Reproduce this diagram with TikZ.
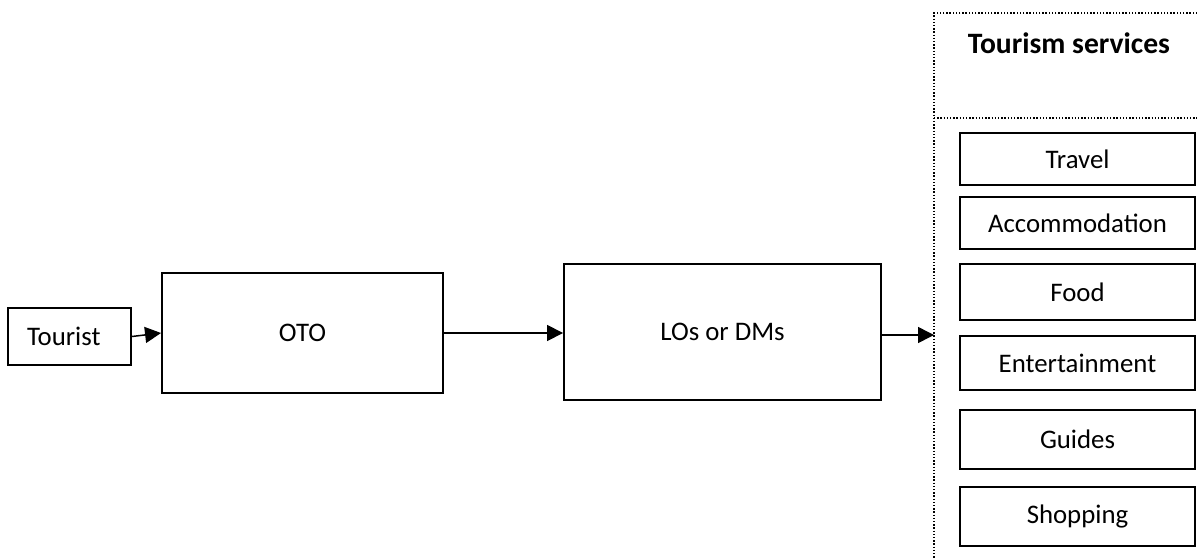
\documentclass[tikz,border=0pt]{standalone}
\usepackage{fontspec}
\setmainfont{Carlito}
\usetikzlibrary{arrows.meta}

\tikzset{
  box/.style={draw, line width=0.95pt, inner sep=2pt, align=center},
  flow/.style={line width=0.75pt, -{Triangle[length=8pt,width=8pt]}},
  panel/.style={line width=0.7pt, dash pattern=on 0.7pt off 0.9pt}
}

\begin{document}
\begin{tikzpicture}[x=0.5pt, y=0.5pt, font=\fontsize{13.4}{16}\selectfont]

\useasboundingbox (0,0) rectangle (1197,558);

% Main chain
\node[box, text width=42.5pt, inner xsep=9.5pt, minimum height=28.5pt, align=left] (tourist) at (69.5,221.5) {Tourist};
\node[box, minimum width=140.5pt, minimum height=60pt] (oto) at (302.5,225) {OTO};
\node[box, minimum width=158.5pt, minimum height=68pt] (los) at (722.5,226) {LOs or DMs};

% Tourism services panel (runs past the page edge)
\begin{scope}
    \clip (0,0) rectangle (1197,558);
    \draw[panel] (1210,545) -- (934,545) -- (934,-10);
    \draw[panel] (934,440) -- (1210,440);
\end{scope}
\coordinate (panelw) at (934,223);

\node[font={\fontsize{14.8}{18}\selectfont\bfseries}] (title) at (1069,515) {Tourism services};

% Services
\foreach \name/\y/\h [count=\i] in {Travel/399/26pt, Accommodation/335/26pt, Food/266/28pt,
    Entertainment/195/27pt, Guides/118.5/29.5pt, Shopping/41.5/29.5pt}
    \node[box, minimum width=117.5pt, minimum height=\h] (s\i) at (1077.5,\y) {\name};

% Arrows
\draw[flow] (tourist.east) -- (oto.west);
\draw[flow] (oto.east) -- (oto.east -| los.west);
\draw[flow] (los.east |- panelw) -- (panelw);

\end{tikzpicture}
\end{document}
